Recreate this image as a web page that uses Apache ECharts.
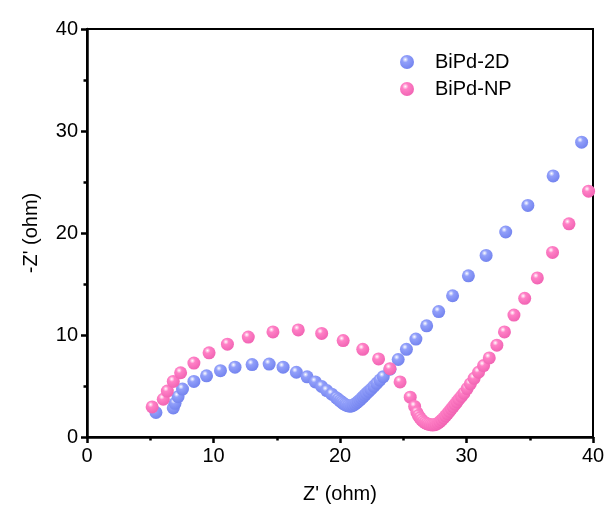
<!DOCTYPE html>
<html>
<head>
<meta charset="utf-8">
<script src="https://cdn.jsdelivr.net/npm/echarts@6/dist/echarts.min.js"></script>
<style>
  html, body { margin: 0; padding: 0; background: #fff; }
  #chart { width: 612px; height: 514px; }
</style>
</head>
<body>
<div id="chart"></div>
<script>
// Nyquist data: [Z' (ohm), -Z'' (ohm)]
const seriesNames = ['BiPd-2D', 'BiPd-NP'];

const bipd2D = [
  [5.45, 2.4], [6.82, 2.85], [6.96, 3.3], [7.2, 3.95], [7.55, 4.7], [8.45, 5.45],
  [9.45, 6.0], [10.55, 6.5], [11.7, 6.85], [13.05, 7.1], [14.4, 7.15], [15.5, 6.85],
  [16.55, 6.35], [17.4, 5.9], [18.05, 5.4], [18.55, 4.95], [18.95, 4.55], [19.35, 4.2],
  [19.7, 3.85], [19.85, 3.7], [20.0, 3.55], [20.13, 3.42], [20.25, 3.3], [20.38, 3.2],
  [20.5, 3.12], [20.64, 3.06], [20.78, 3.02], [20.92, 3.05], [21.05, 3.12], [21.18, 3.23],
  [21.32, 3.36], [21.45, 3.49], [21.58, 3.63], [21.71, 3.79], [21.84, 3.95], [21.97, 4.11],
  [22.1, 4.28], [22.27, 4.48], [22.45, 4.68], [22.67, 4.97], [22.9, 5.26], [23.15, 5.58],
  [23.42, 5.91], [23.95, 6.64], [24.6, 7.6], [25.25, 8.6], [26.0, 9.6], [26.85, 10.9],
  [27.8, 12.3], [28.9, 13.85], [30.15, 15.8], [31.55, 17.8], [33.1, 20.1], [34.85, 22.7],
  [36.85, 25.6], [39.1, 28.9]
];

const bipdNP = [
  [5.15, 2.95], [6.03, 3.7], [6.35, 4.5], [6.82, 5.45], [7.4, 6.3], [8.45, 7.25],
  [9.65, 8.25], [11.1, 9.1], [12.75, 9.8], [14.7, 10.3], [16.7, 10.5], [18.55, 10.15],
  [20.25, 9.45], [21.8, 8.6], [23.05, 7.65], [23.95, 6.7], [24.75, 5.4], [25.55, 3.9],
  [25.9, 3.0], [26.08, 2.4], [26.2, 2.1], [26.32, 1.88], [26.45, 1.68], [26.58, 1.52],
  [26.72, 1.4], [26.86, 1.31], [27.0, 1.25], [27.15, 1.2], [27.3, 1.18], [27.45, 1.19],
  [27.6, 1.25], [27.75, 1.35], [27.9, 1.5], [28.05, 1.67], [28.2, 1.86], [28.35, 2.08],
  [28.5, 2.3], [28.65, 2.52], [28.8, 2.75], [28.95, 2.98], [29.1, 3.22], [29.25, 3.45],
  [29.4, 3.7], [29.6, 3.98], [29.8, 4.3], [30.05, 4.75], [30.3, 5.2], [30.6, 5.75],
  [30.95, 6.35], [31.35, 7.0], [31.8, 7.75], [32.4, 9.0], [33.0, 10.3], [33.75, 11.95],
  [34.6, 13.6], [35.6, 15.6], [36.8, 18.1], [38.1, 20.9], [39.65, 24.1]
];

const xTicks = [0, 10, 20, 30, 40];
const yTicks = [0, 10, 20, 30, 40];

// glossy sphere fill for the markers
function sphere(light, base, edge) {
  return {
    type: 'radial', x: 0.38, y: 0.32, r: 0.72,
    colorStops: [
      { offset: 0, color: light },
      { offset: 0.3, color: base },
      { offset: 1, color: edge }
    ]
  };
}
const blueFill = sphere('#ffffff', '#919ffa', '#7282ee');
const pinkFill = sphere('#ffffff', '#ff80c6', '#f062b2');

const font = 'Liberation Sans, Arial, sans-serif';

const chart = echarts.init(document.getElementById('chart'), null, { renderer: 'canvas' });

const axisCommon = {
  min: xTicks[0],
  max: xTicks[xTicks.length - 1],
  interval: 10,
  axisLine: { show: true, onZero: false, lineStyle: { color: '#000', width: 2.5 } },
  axisTick: { show: true, inside: false, length: 6, lineStyle: { color: '#000', width: 2.5 } },
  minorTick: { show: true, splitNumber: 2, length: 3.5, lineStyle: { color: '#000', width: 2.5 } },
  splitLine: { show: false },
  axisLabel: { color: '#000', fontSize: 20, fontFamily: font, margin: 9 },
  nameTextStyle: { color: '#000', fontSize: 20, fontFamily: font }
};

chart.setOption({
  backgroundColor: '#fff',
  animation: false,
  grid: {
    left: 87, right: 19, top: 29, bottom: 77,
    show: true, borderColor: '#000', borderWidth: 2, backgroundColor: 'transparent'
  },
  legend: {
    show: true,
    orient: 'vertical',
    left: 395, top: 47,
    itemWidth: 14, itemHeight: 14,
    itemGap: 7,
    icon: 'circle',
    textStyle: { color: '#000', fontSize: 20, fontFamily: font, padding: [0, 0, 0, 16] },
    data: seriesNames
  },
  xAxis: Object.assign({}, axisCommon, {
    type: 'value',
    name: "Z' (ohm)",
    nameLocation: 'middle',
    nameGap: 47
  }),
  yAxis: Object.assign({}, axisCommon, {
    type: 'value',
    min: yTicks[0],
    max: yTicks[yTicks.length - 1],
    name: "-Z' (ohm)",
    nameLocation: 'middle',
    nameGap: 46
  }),
  series: [
    {
      name: seriesNames[0],
      type: 'scatter',
      data: bipd2D,
      symbol: 'circle',
      symbolSize: 13,
      itemStyle: { color: blueFill, opacity: 1 }
    },
    {
      name: seriesNames[1],
      type: 'scatter',
      data: bipdNP,
      symbol: 'circle',
      symbolSize: 13,
      itemStyle: { color: pinkFill, opacity: 1 }
    }
  ]
});
</script>
</body>
</html>
